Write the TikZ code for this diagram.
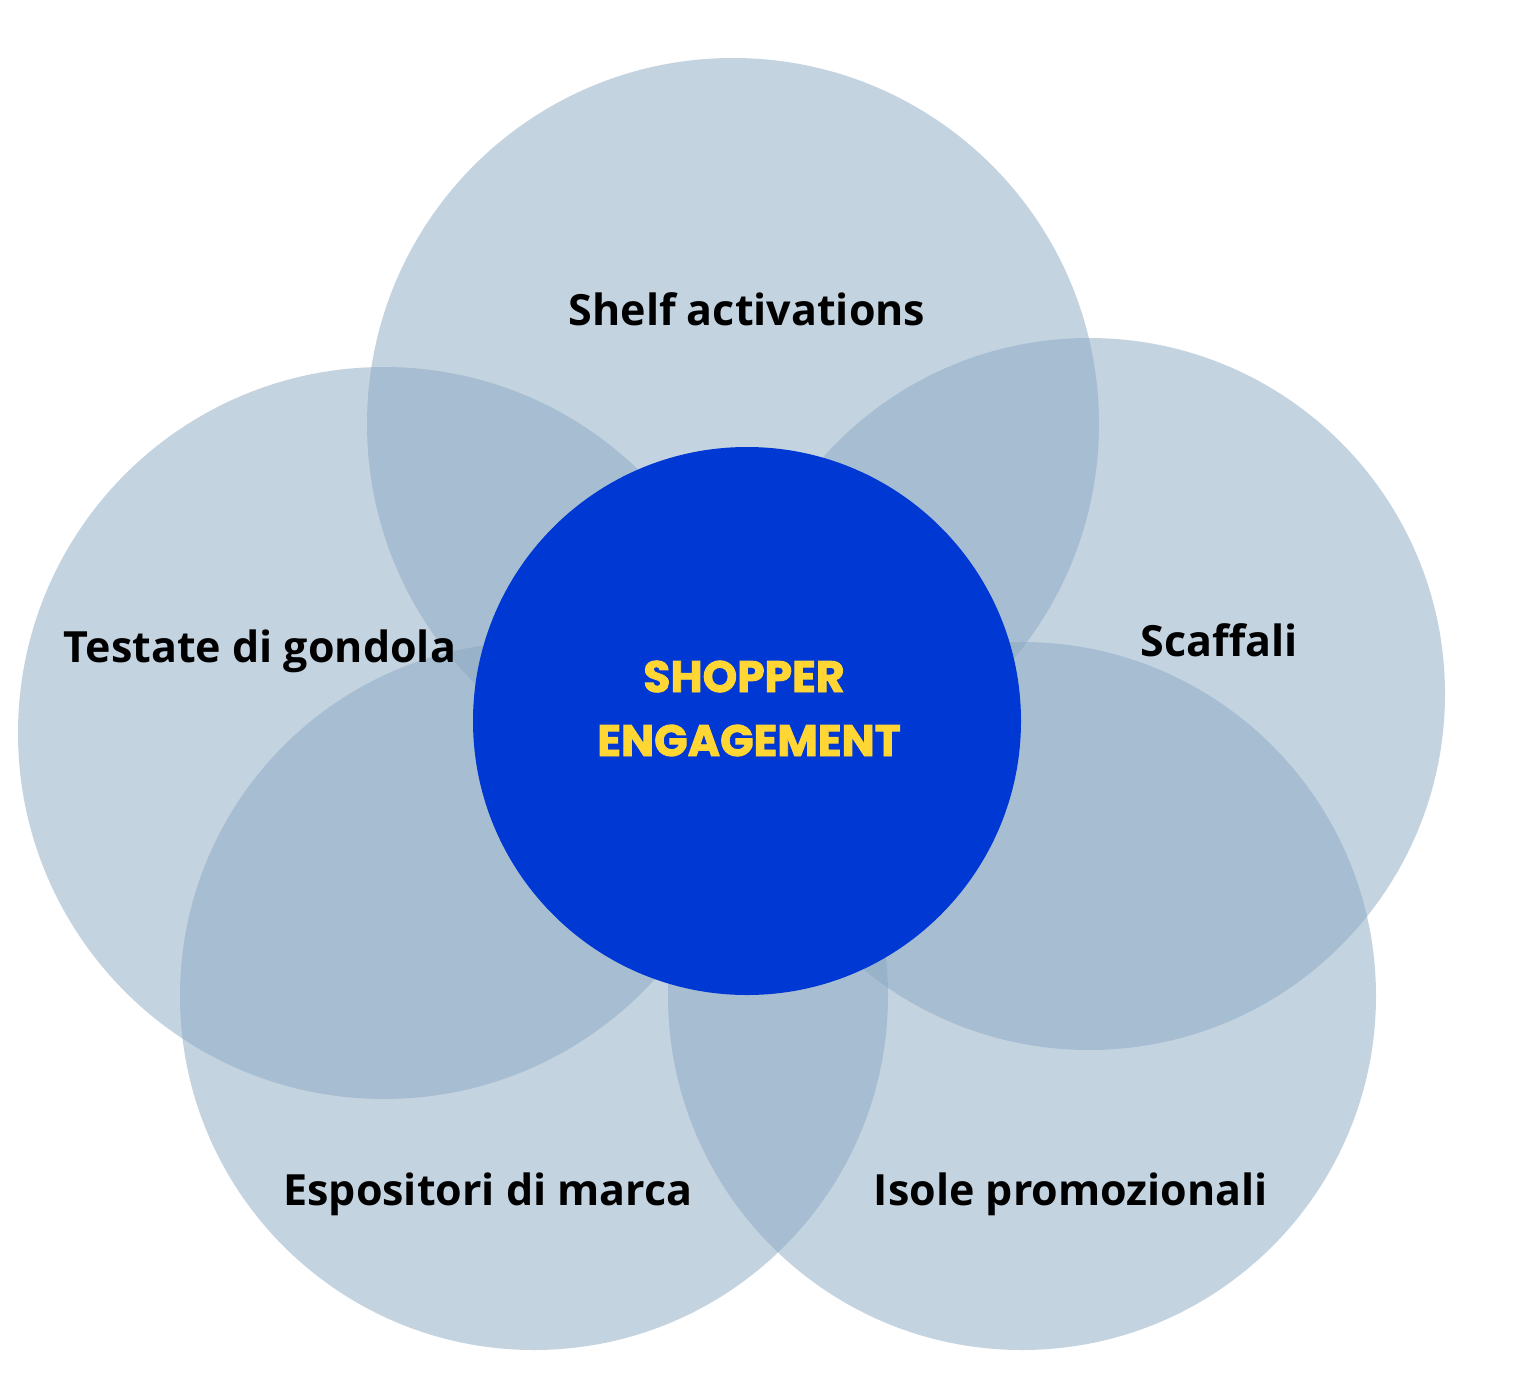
\documentclass[tikz,border=0pt]{standalone}
\usepackage{fontspec}
\setmainfont{Open Sans}
\newfontfamily\popfont{Poppins}[FakeBold=2]
\definecolor{petal}{RGB}{139,169,195}
\definecolor{core}{RGB}{0,56,212}
\definecolor{gold}{RGB}{255,214,51}
\begin{document}
\begin{tikzpicture}[x=1pt,y=-1pt,
  petalc/.style={fill=petal,fill opacity=0.5,draw=none},
  lbl/.style={font=\fontsize{43}{50}\selectfont\bfseries,text=black,anchor=base,inner sep=0pt},
  ctr/.style={font=\popfont\fontsize{44}{50}\selectfont\bfseries,text=gold,anchor=base,inner sep=0pt}]
\useasboundingbox[fill=white] (0,0) rectangle (1526,1392);
\fill[petalc] (733,424) circle[radius=366];
\fill[petalc] (1089,694) circle[radius=356];
\fill[petalc] (384,733) circle[radius=366];
\fill[petalc] (534,996) circle[radius=354];
\fill[petalc] (1022,996) circle[radius=354];
\node[circle,fill=core,minimum size=548pt,inner sep=0pt] (core) at (747,721) {};
\node[lbl] (shelf) at (747,325) {Shelf activations};
\node[lbl] (testate) at (260,662) {Testate di gondola};
\node[lbl] (scaffali) at (1219,656) {Scaffali};
\node[lbl] (espositori) at (488,1205) {Espositori di marca};
\node[lbl] (isole) at (1071,1205) {Isole promozionali};
\node[ctr] (shopper) at (744,692) {SHOPPER};
\node[ctr] (engagement) at (749,756) {ENGAGEMENT};
\end{tikzpicture}
\end{document}
